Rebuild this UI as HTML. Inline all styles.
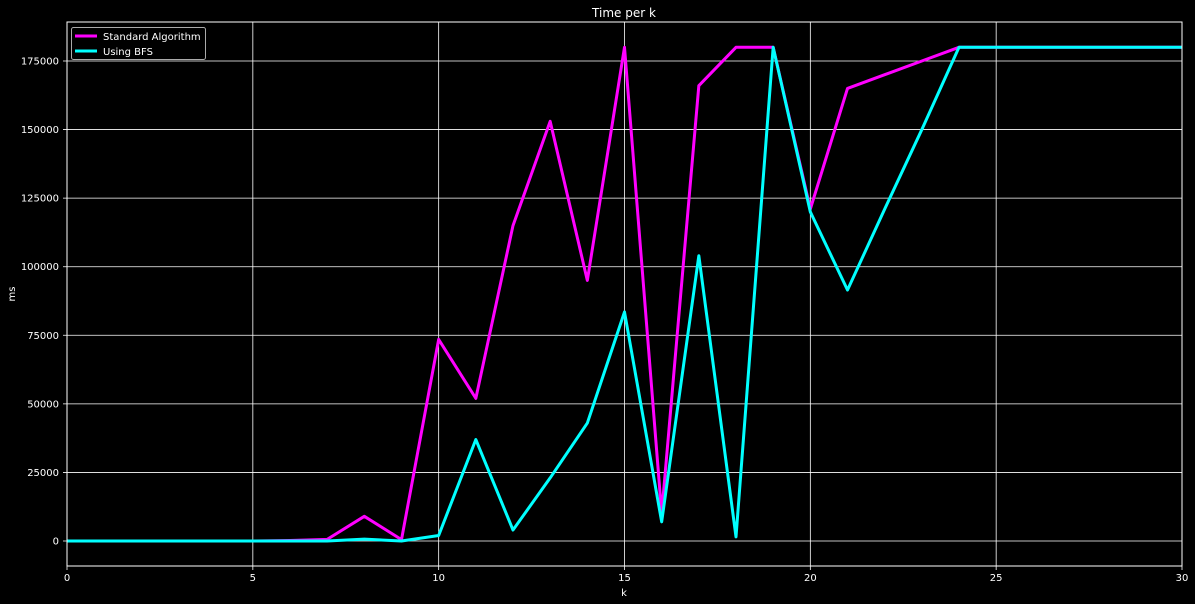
<!DOCTYPE html>
<html><head><meta charset="utf-8"><style>
body{margin:0;background:#000;}
svg{display:block;font-family:"DejaVu Sans","Liberation Sans",sans-serif;}
</style></head><body>
<svg id="c" width="1195" height="604">
<rect width="1195" height="604" fill="#000"/>
<text x="624" y="17" fill="#fff" font-size="12" text-anchor="middle">Time per k</text>
<g id="grid"></g>
<g id="lines"></g>
<rect x="67" y="22" width="1115" height="544" fill="none" stroke="#fff" stroke-width="1"/>
<text x="624" y="596" fill="#fff" font-size="10" text-anchor="middle">k</text>
<text x="15" y="294" fill="#fff" font-size="10" text-anchor="middle" transform="rotate(-90 15 294)">ms</text>
<g>
<rect x="71.5" y="27.5" width="134" height="32" rx="2" fill="#000" stroke="#aaa"/>
<line x1="75" y1="36" x2="97" y2="36" stroke="#f0f" stroke-width="3"/>
<text x="103" y="40" fill="#fff" font-size="10">Standard Algorithm</text>
<line x1="75" y1="51" x2="97" y2="51" stroke="#0ff" stroke-width="3"/>
<text x="103" y="55" fill="#fff" font-size="10">Using BFS</text>
</g>
</svg>
<script>
const ks=[0,1,2,3,4,5,6,7,8,9,10,11,12,13,14,15,16,17,18,19,20,21,22,23,24,25,26,27,28,29,30];
const standard=[0,0,0,0,0,0,200,600,9000,500,73500,52000,115000,153000,95000,180000,10000,166000,180000,180000,121000,165000,170000,175000,180000,180000,180000,180000,180000,180000,180000];
const bfs=[0,0,0,0,0,0,0,0,700,0,2000,37000,4000,23000,43000,83500,7000,104000,1500,180000,120000,91500,121000,150000,180000,180000,180000,180000,180000,180000,180000];
const xTicks=[0,5,10,15,20,25,30];
const yTicks=[0,25000,50000,75000,100000,125000,150000,175000];
const NS="http://www.w3.org/2000/svg";
const X=k=>67+k*(1115/30);
const Y=v=>541-v*(480/175000);
const grid=document.getElementById('grid'),lines=document.getElementById('lines'),svg=document.getElementById('c');
function mk(t,a,p){const e=document.createElementNS(NS,t);for(const k in a)e.setAttribute(k,a[k]);(p||grid).appendChild(e);return e;}
xTicks.forEach(t=>{
 const l=mk('line',{x1:X(t),x2:X(t),y1:22,y2:570,stroke:'#fff','stroke-width':0.8});
 
 
 const tx=mk('text',{x:X(t),y:581,fill:'#fff','font-size':10,'text-anchor':'middle'});tx.textContent=t;
 
 
});
yTicks.forEach(t=>{
 const l=mk('line',{x1:63,x2:1182,y1:Y(t),y2:Y(t),stroke:'#fff','stroke-width':0.8});
 
 
 const tx=mk('text',{x:59,y:Y(t)+3.5,fill:'#fff','font-size':10,'text-anchor':'end'});tx.textContent=t;
 
 
});
function series(vals,col,name){
 const p=mk('polyline',{points:ks.map((k,i)=>X(k)+','+Y(vals[i])).join(' '),fill:'none',stroke:col,'stroke-width':3,'stroke-linejoin':'round'},lines);
 
 
}
series(standard,'#f0f','standard-algorithm-line');
series(bfs,'#0ff','using-bfs-line');
</script>
</body></html>
